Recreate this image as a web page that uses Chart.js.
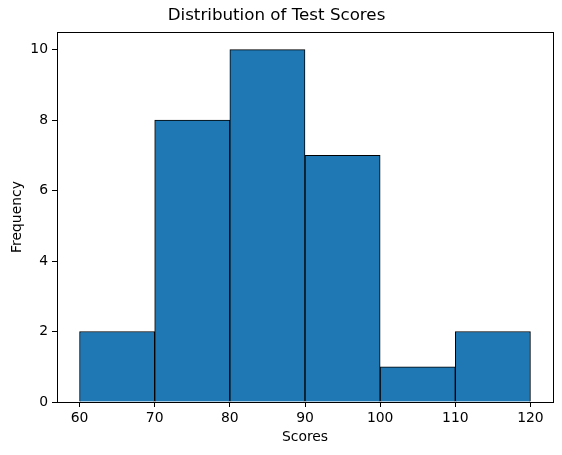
<!DOCTYPE html>
<html><head><meta charset="utf-8">
<script src="https://cdn.jsdelivr.net/npm/chart.js@4"></script>
<style>html,body{margin:0;padding:0;background:#fff}#w{width:562px;height:455px}</style>
</head><body><div id="w"><canvas id="c" width="562" height="455"></canvas></div>
<script>
const binCenters = [65, 75, 85, 95, 105, 115];
const counts = [2, 8, 10, 7, 1, 2];
const xTicks = [60, 70, 80, 90, 100, 110, 120];
const yTicks = [0, 2, 4, 6, 8, 10];
const FONT = "'DejaVu Sans', sans-serif";

const frame = {
  id: 'frame',
  afterDraw(chart) {
    const {ctx, chartArea: a} = chart;
    ctx.save();
    ctx.strokeStyle = '#000';
    ctx.lineWidth = 1;
    ctx.strokeRect(Math.round(a.left) + 0.5, Math.round(a.top) + 0.5, Math.round(a.right - a.left), Math.round(a.bottom - a.top));
    ctx.restore();
  }
};

new Chart(document.getElementById('c'), {
  type: 'bar',
  data: {
    datasets: [{
      data: binCenters.map((x, i) => ({x, y: counts[i]})),
      backgroundColor: '#1f77b4',
      borderColor: '#000',
      borderWidth: 1,
      barPercentage: 1,
      categoryPercentage: 1
    }]
  },
  options: {
    responsive: false,
    animation: false,
    devicePixelRatio: 1,
    layout: {padding: {left: 0, right: 9, top: 0, bottom: 0}},
    plugins: {
      legend: {display: false},
      tooltip: {enabled: false},
      title: {display: true, text: 'Distribution of Test Scores', color: '#000',
        font: {family: FONT, size: 16.7, weight: 'normal'}, padding: {top: 6, bottom: 6}}
    },
    scales: {
      x: {
        type: 'linear', min: 57, max: 123, offset: false,
        afterBuildTicks: s => { s.ticks = xTicks.map(v => ({value: v})); },
        afterFit: s => { s.height = 53; },
        grid: {display: true, offset: false, drawOnChartArea: false, drawTicks: true, tickLength: 5, color: '#000', tickColor: '#000'},
        border: {display: false},
        ticks: {color: '#000', font: {family: FONT, size: 13.9}, padding: 3, maxRotation: 0, autoSkip: false},
        title: {display: true, text: 'Scores', color: '#000', font: {family: FONT, size: 13.9}, padding: {top: 2, bottom: 9}}
      },
      y: {
        min: 0, max: 10.5,
        afterBuildTicks: s => { s.ticks = yTicks.map(v => ({value: v})); },
        afterFit: s => { s.width = 57; },
        grid: {display: true, offset: false, drawOnChartArea: false, drawTicks: true, tickLength: 5, color: '#000', tickColor: '#000'},
        border: {display: false},
        ticks: {color: '#000', font: {family: FONT, size: 13.9}, padding: 4, autoSkip: false},
        title: {display: true, text: 'Frequency', color: '#000', font: {family: FONT, size: 13.9}, padding: {top: 9, bottom: 2}}
      }
    }
  },
  plugins: [frame]
});
</script></body></html>
